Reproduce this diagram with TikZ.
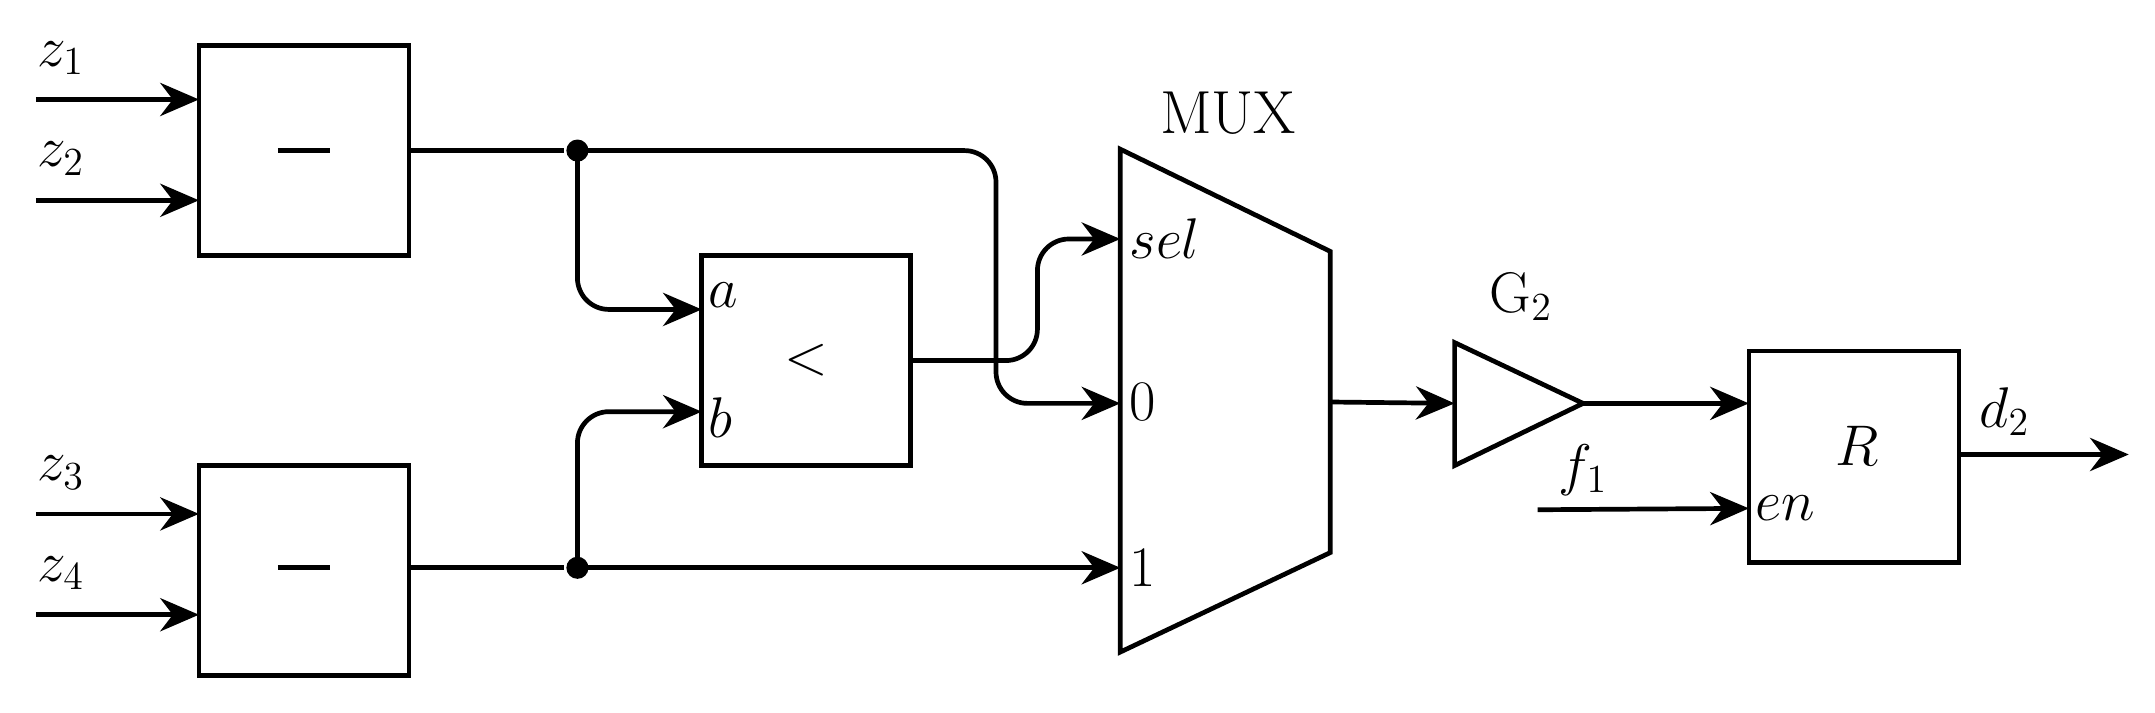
\documentclass[tikz,border=0pt]{standalone}
\usetikzlibrary{arrows.meta}
\begin{document}
\begin{tikzpicture}[x=0.01757cm,y=-0.01757cm,line width=1.7pt,
  every node/.style={font=\fontsize{22}{26}\selectfont},
  blk/.style={draw,line width=1.7pt},
  arr/.style={-{Stealth[length=14pt,width=12pt]}},
  rc/.style={rounded corners=0.4cm},
  minus/.style={inner sep=0pt},
  dot/.style={circle,fill,inner sep=0pt,minimum size=8pt}]
\useasboundingbox (4,0) rectangle (1564,516);
% boxes
\draw[blk] (148,33) rectangle (300,185);
\draw[blk] (148,337) rectangle (300,489);
\draw[blk] (512,185) rectangle (663,337);
\draw[blk] (1270,254) rectangle (1422,407);
\node[minus] (m1) at (224,109) {\rule{0.66cm}{1.8pt}};
\node[minus] (m2) at (224,411) {\rule{0.66cm}{1.8pt}};
\node (lt) at (588,261) {$<$};
\node (R) at (1348,323) {$R$};
% MUX
\draw[blk] (815,108) -- (967,182) -- (967,400) -- (815,472) -- cycle;
\node (mux) at (893,82) {MUX};
\node[anchor=west,inner sep=1pt] (sel) at (818,173) {$sel$};
\node[anchor=west,inner sep=1pt] (zero) at (818,291) {$0$};
\node[anchor=west,inner sep=1pt] (one) at (818,411) {$1$};
% gain
\draw[blk] (1057,248) -- (1150,292) -- (1057,337) -- cycle;
\node (g2) at (1105,215) {$\mathrm{G}_2$};
% inputs
\coordinate (i1) at (30,72); \coordinate (i2) at (30,145);
\coordinate (i3) at (30,372); \coordinate (i4) at (30,445);
\draw[arr] (i1) -- (148,72); \draw[arr] (i2) -- (148,145);
\draw[arr] (i3) -- (148,372); \draw[arr] (i4) -- (148,445);
\node (z1) at (48,42) {$z_1$}; \node (z2) at (48,115) {$z_2$};
\node (z3) at (48,342) {$z_3$}; \node (z4) at (48,415) {$z_4$};
% dots
\node[dot] (d1) at (422,109) {};
\node[dot] (d2) at (422,411) {};
\draw (300,109) -- (d1);
\draw (300,411) -- (d2);
\draw[arr,rc] (d1.center) -- (422,224) -- (512,224);
\node[anchor=west,inner sep=1pt] (a) at (513,214) {$a$};
\draw[arr,rc] (d2.center) -- (422,298) -- (512,298);
\node[anchor=west,inner sep=1pt] (b) at (513,302) {$b$};
\draw[arr,rc] (d1.center) -- (725,109) -- (725,292) -- (815,292);
\draw[arr,rc] (663,261) -- (755,261) -- (755,173) -- (815,173);
\draw[arr] (d2.center) -- (815,411);
% right part
\draw[arr] (967,291) -- (1057,292);
\draw[arr] (1150,292) -- (1270,292);
\coordinate (f) at (1117,369);
\draw[arr] (f) -- (1270,368);
\node (f1) at (1150,340) {$f_1$};
\node[anchor=west,inner sep=1pt] (en) at (1271,368) {$en$};
\draw[arr] (1422,329) -- (1545,329);
\node (d2l) at (1455,298) {$d_2$};
\end{tikzpicture}
\end{document}
